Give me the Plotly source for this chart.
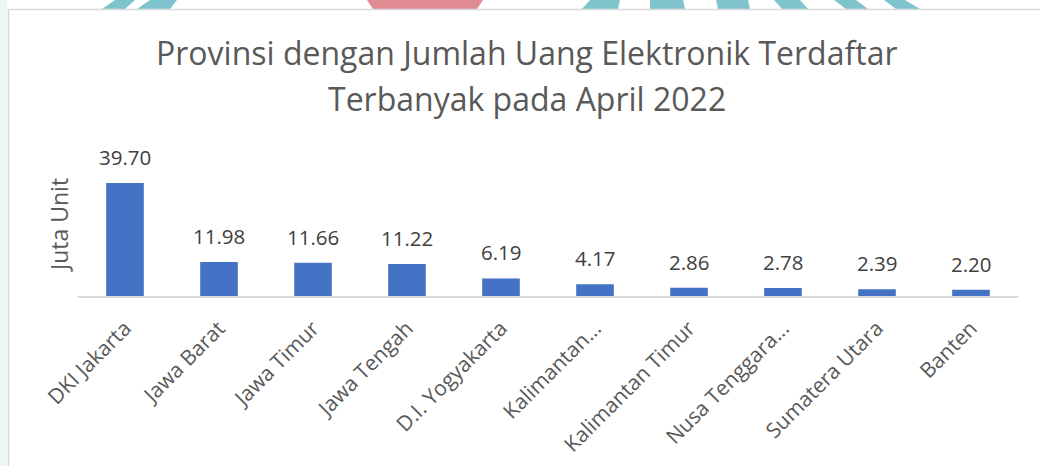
import plotly.graph_objects as go

# ---- data ----
provinces = ["DKI Jakarta", "Jawa Barat", "Jawa Timur", "Jawa Tengah", "D.I. Yogyakarta",
             "Kalimantan...", "Kalimantan Timur", "Nusa Tenggara...", "Sumatera Utara", "Banten"]
values = [39.70, 11.98, 11.66, 11.22, 6.19, 4.17, 2.86, 2.78, 2.39, 2.20]
value_labels = [f"{v:.2f}" for v in values]
title_lines = ["Provinsi dengan Jumlah Uang Elektronik Terdaftar", "Terbanyak pada April 2022"]
y_title = "Juta Unit"

W, H = 1040, 466
FONT = "Open Sans"

def px(x):
    return x / W

def py(y):
    return 1 - y / H

def poly(pts):
    s = "M " + " L ".join(f"{px(x):.5f},{py(y):.5f}" for x, y in pts) + " Z"
    return s

fig = go.Figure()
fig.add_trace(go.Bar(
    x=provinces, y=values,
    marker=dict(color="#4472C4", line=dict(width=0)),
    hoverinfo="skip",
))

annotations = []
for p, v, t in zip(provinces, values, value_labels):
    annotations.append(dict(x=p, y=v, xref="x", yref="y", text=t, showarrow=False,
                            yanchor="bottom", yshift=10,
                            font=dict(family=FONT, size=20.5, color="#404040")))
annotations.append(dict(x=px(59), y=py(225), xref="paper", yref="paper", text=y_title,
                        textangle=-90, showarrow=False, xanchor="center", yanchor="middle",
                        font=dict(family=FONT, size=23, color="#595959")))
for line, yc in zip(title_lines, [53, 98]):
    annotations.append(dict(x=px(527), y=py(yc), xref="paper", yref="paper", text=line,
                            showarrow=False, xanchor="center", yanchor="middle",
                            font=dict(family=FONT, size=32, color="#595959")))

shapes = []
# decorative background
shapes.append(dict(type="rect", xref="paper", yref="paper", x0=0, x1=px(7), y0=0, y1=1,
                   fillcolor="#eaf7f7", line=dict(width=0), layer="below"))
teal = "#7fc4cc"
pink = "#e08a94"
stripes = [
    [(115, 0), (135, 0), (125, 9), (102, 9)],
    [(150, 0), (177, 0), (170, 9), (137, 9)],
    [(590, 0), (620, 0), (618, 9), (582, 9)],
    [(650, 0), (683, 0), (685, 9), (650, 9)],
    [(716, 0), (748, 0), (750, 9), (718, 9)],
    [(774, 0), (800, 0), (808, 9), (782, 9)],
    [(834, 0), (856, 0), (868, 9), (846, 9)],
    [(884, 0), (905, 0), (920, 9), (896, 9)],
]
for s in stripes:
    shapes.append(dict(type="path", xref="paper", yref="paper", path=poly(s),
                       fillcolor=teal, line=dict(width=0), layer="below"))
shapes.append(dict(type="path", xref="paper", yref="paper",
                   path=poly([(367, 0), (483, 0), (477, 9), (373, 9)]),
                   fillcolor=pink, line=dict(width=0), layer="below"))
# chart frame
shapes.append(dict(type="rect", xref="paper", yref="paper", x0=px(8.5), x1=px(1045),
                   y0=py(470), y1=py(9.5), fillcolor="white",
                   line=dict(color="#d9d9d9", width=1.5), layer="below"))

fig.update_layout(
    width=W, height=H,
    margin=dict(l=0, r=0, t=0, b=0, autoexpand=False),
    paper_bgcolor="white", plot_bgcolor="rgba(0,0,0,0)",
    showlegend=False,
    bargap=0.6,
    xaxis=dict(domain=[px(78), px(1018)], showline=True, linecolor="#d9d9d9", linewidth=1.5,
               tickangle=-45, ticks="", ticklabelstandoff=10, automargin=False,
               tickfont=dict(family=FONT, size=21, color="#595959"),
               showgrid=False, fixedrange=True),
    yaxis=dict(domain=[py(296), py(168)], range=[0, 45], visible=False, automargin=False,
               showgrid=False, zeroline=False, fixedrange=True),
    annotations=annotations,
    shapes=shapes,
)

fig.write_html("out.html", config={"displayModeBar": False},
               post_script="document.body.style.margin='0';document.body.style.overflow='hidden';")
